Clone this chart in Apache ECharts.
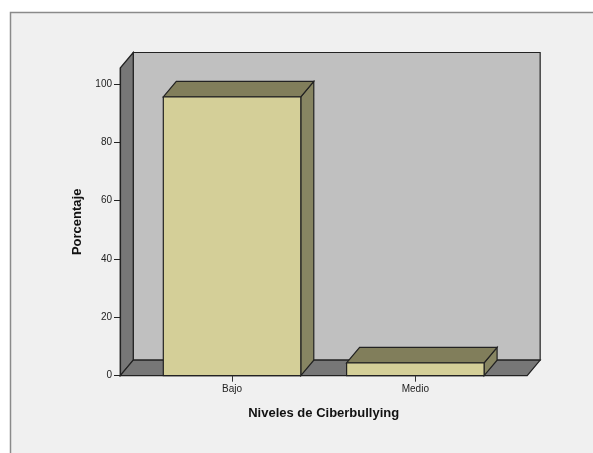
<!DOCTYPE html>
<html>
<head>
<meta charset="utf-8">
<script src="https://cdn.jsdelivr.net/npm/echarts@6/dist/echarts.min.js"></script>
<style>
html,body{margin:0;padding:0;background:#ffffff;}
#chart{width:593px;height:453px;}
</style>
</head>
<body>
<div id="chart"></div>
<script>
var categories = ['Bajo', 'Medio'];
var values = [95.6, 4.4];
var yTicks = [0, 20, 40, 60, 80, 100];

var DX = 13, DY = -15.5;
var FONT = '"Liberation Sans", Arial, sans-serif';

var chart = echarts.init(document.getElementById('chart'), null, {renderer: 'canvas'});

function renderWalls(params, api) {
  var c0 = api.coord([0, 0]);
  var c1 = api.coord([1, 0]);
  var band = c1[0] - c0[0];
  var top = api.coord([0, 105.5])[1];
  var y0 = c0[1];
  var xl = c0[0] - 0.61 * band;
  var xr = c1[0] + 0.61 * band;
  var line = {stroke: '#222', lineWidth: 1.2};
  return {
    type: 'group',
    children: [
      {type: 'polygon', shape: {points: [[xl + DX, top + DY], [xr + DX, top + DY], [xr + DX, y0 + DY], [xl + DX, y0 + DY]]},
        style: Object.assign({fill: '#c0c0c0'}, line)},
      {type: 'polygon', shape: {points: [[xl, top], [xl + DX, top + DY], [xl + DX, y0 + DY], [xl, y0]]},
        style: Object.assign({fill: '#777777'}, line)},
      {type: 'polygon', shape: {points: [[xl, y0], [xr, y0], [xr + DX, y0 + DY], [xl + DX, y0 + DY]]},
        style: Object.assign({fill: '#777777'}, line)}
    ]
  };
}

function renderBar(params, api) {
  var idx = api.value(0);
  var val = api.value(1);
  var base = api.coord([idx, 0]);
  var topPt = api.coord([idx, val]);
  var band = api.size([1, 0])[0];
  var w = band * 0.75;
  var x1 = base[0] - w / 2, x2 = base[0] + w / 2;
  var yb = base[1], yt = topPt[1];
  var line = {stroke: '#222', lineWidth: 1.2};
  return {
    type: 'group',
    children: [
      {type: 'polygon', shape: {points: [[x2, yt], [x2 + DX, yt + DY], [x2 + DX, yb + DY], [x2, yb]]},
        style: Object.assign({fill: '#878562'}, line)},
      {type: 'polygon', shape: {points: [[x1, yt], [x1 + DX, yt + DY], [x2 + DX, yt + DY], [x2, yt]]},
        style: Object.assign({fill: '#817e5b'}, line)},
      {type: 'rect', shape: {x: x1, y: yt, width: w, height: yb - yt},
        style: Object.assign({fill: '#d4cf98'}, line)}
    ]
  };
}

var option = {
  backgroundColor: '#ffffff',
  animation: false,
  graphic: [
    {type: 'rect', z: -10, shape: {x: 10.5, y: 12.5, width: 620, height: 480},
      style: {fill: '#f0f0f0', stroke: '#8a8a8a', lineWidth: 1.5}}
  ],
  grid: {left: 140.4, top: 68, width: 366.6, bottom: 77.3},
  xAxis: {
    type: 'category',
    data: categories,
    axisLine: {show: false},
    axisTick: {show: true, alignWithLabel: true, length: 6, lineStyle: {color: '#333', width: 1}},
    axisLabel: {color: '#222', fontSize: 10, fontFamily: FONT, margin: 9},
    name: 'Niveles de Ciberbullying',
    nameLocation: 'middle',
    nameGap: 31,
    nameTextStyle: {color: '#111', fontSize: 13, fontWeight: 'bold', fontFamily: FONT},
    z: 10
  },
  yAxis: {
    type: 'value',
    min: 0,
    max: 105.5,
    offset: 20.4,
    splitLine: {show: false},
    axisLine: {show: true, lineStyle: {color: '#222', width: 1.2}},
    axisTick: {show: true, length: 6, customValues: yTicks, lineStyle: {color: '#222', width: 1}},
    axisLabel: {color: '#222', fontSize: 10, fontFamily: FONT, margin: 8, customValues: yTicks},
    name: 'Porcentaje',
    nameLocation: 'middle',
    nameGap: 36,
    nameRotate: 90,
    nameTextStyle: {color: '#111', fontSize: 13, fontWeight: 'bold', fontFamily: FONT},
    z: 10
  },
  series: [
    {type: 'custom', renderItem: renderWalls, clip: false, data: [[0, 0]], z: 1, silent: true},
    {type: 'custom', renderItem: renderBar, clip: false, z: 2,
      data: values.map(function (v, i) { return [i, v]; })}
  ]
};
chart.setOption(option);
</script>
</body>
</html>
